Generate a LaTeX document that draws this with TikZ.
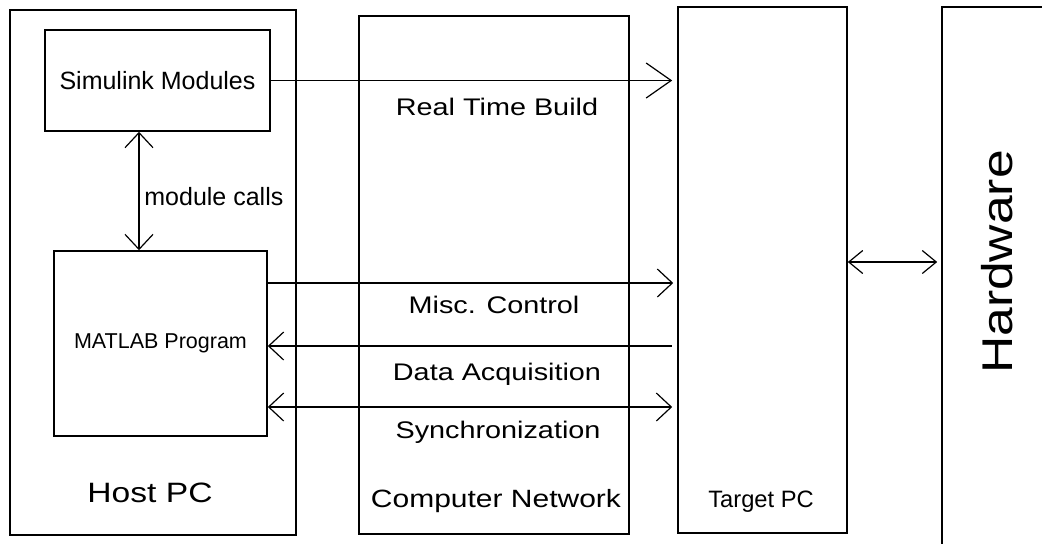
\documentclass[tikz,border=0pt]{standalone}
\usepackage{fontspec}
\setmainfont{Liberation Sans}
\newfontfamily\widefont{Liberation Sans}[FakeStretch=1.2]
\usetikzlibrary{arrows.meta}
\tikzstyle{pcbox} = [draw=black, line width=0.8pt, rectangle, inner sep=0pt]
\tikzstyle{modbox} = [draw=black, line width=0.8pt, rectangle, inner sep=0pt, font=\fontsize{12.5pt}{15pt}\selectfont]
\tikzstyle{wide} = [inner sep=0pt, anchor=base, font=\widefont\fontsize{12pt}{14pt}\selectfont]
\tikzstyle{link} = [line width=0.6pt]
\begin{document}
\begin{tikzpicture}[x=0.5pt, y=-0.5pt, >={Straight Barb[length=7.5pt, width=14pt]}]
\useasboundingbox (0,0) rectangle (1042,543);
\clip (0,0) rectangle (1042,543);
\node[pcbox, minimum width=143pt, minimum height=262.5pt] (host) at (153,272.5) {};
\node[modbox, minimum width=112.5pt, minimum height=50.5pt] (simulink) at (157.5,80.5) {Simulink Modules};
\node[modbox, minimum width=106.5pt, minimum height=92.5pt, font=\fontsize{10.75pt}{13pt}\selectfont] (matlab) at (160.5,343.5) {MATLAB Program};
\node[pcbox, minimum width=135pt, minimum height=259pt] (network) at (494,275) {};
\node[pcbox, minimum width=84.5pt, minimum height=263pt] (target) at (762.5,270) {};
\node[pcbox, minimum width=79pt, minimum height=286.5pt] (hardware) at (1021,293.5) {};
\node[wide, font=\widefont\fontsize{14pt}{16pt}\selectfont] (hostlabel) at (150,502) {Host PC};
\node[wide] (rtb) at (497,115) {Real Time Build};
\node[wide] (misc) at (494,313) {Misc. Control};
\node[wide] (daq) at (497,380) {Data Acquisition};
\node[wide] (sync) at (498,438) {Synchronization};
\node[wide, font=\widefont\fontsize{12.5pt}{15pt}\selectfont] (netlabel) at (496,507) {Computer Network};
\node[anchor=base, inner sep=0pt, font=\fontsize{11.85pt}{14pt}\selectfont] (targetlabel) at (761,507) {Target PC};
\node[wide, rotate=90, font=\widefont\fontsize{21.5pt}{24pt}\selectfont] (hwlabel) at (1012,262) {Hardware};
\node[anchor=base west, inner sep=0pt, font=\fontsize{12.5pt}{15pt}\selectfont] (calls) at (144,205) {module calls};
\coordinate (callsx) at (139,0);
\coordinate (miscy) at (0,283);
\coordinate (daqy) at (0,346);
\coordinate (synchy) at (0,407);
\coordinate (hwy) at (0,262);
\draw[link, <->] (simulink.south -| callsx) -- (matlab.north -| callsx);
\draw[link, ->, >={Straight Barb[length=12.5pt, width=17.5pt]}, shorten >=2.5pt] (simulink.east) -- (simulink.east -| target.west);
\draw[link, ->, shorten >=2pt] (matlab.east |- miscy) -- (target.west |- miscy);
\draw[link, <-, shorten >=2.5pt] (matlab.east |- daqy) -- (target.west |- daqy);
\draw[link, <->, shorten >=2.5pt] (matlab.east |- synchy) -- (target.west |- synchy);
\draw[link, <->, >={Straight Barb[length=7pt, width=11.5pt]}, shorten >=2pt] (target.east |- hwy) -- (hardware.west |- hwy);
\end{tikzpicture}
\end{document}
